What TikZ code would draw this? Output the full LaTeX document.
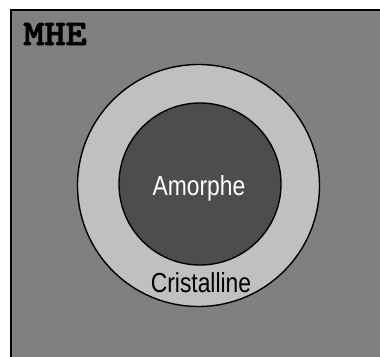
\documentclass[tikz,border=0pt]{standalone}
\usepackage{fontspec}
\setmainfont{Liberation Sans}
\newfontfamily\mhefont{lmmonolt10-bold.otf}[FakeBold=2]
\usepackage{tikz}
\usetikzlibrary{positioning}
\definecolor{mhegray}{RGB}{128, 128, 128}
\definecolor{cristalgray}{RGB}{192, 192, 192}
\definecolor{amorphgray}{RGB}{77, 77, 77}

\begin{document}
\begin{tikzpicture}[x=1pt, y=-1pt,
    framebox/.style={draw=black, line width=2.2pt, fill=mhegray},
    phasedisc/.style={circle, draw=black, line width=1.4pt, inner sep=0pt},
    phaselabel/.style={font=\fontsize{27.5}{30}\selectfont, inner sep=0pt,
        anchor=base, xscale=0.83},
    titlelabel/.style={font=\fontsize{36}{40}\selectfont\mhefont,
        inner sep=0pt, anchor=base west, xscale=1.12},
]

% ── PAGE ───────────────────────────────────────────────────────────────────
\useasboundingbox (0,0) rectangle (380,356);
\clip (0,0) rectangle (380,356);

% ── FRAME (runs off the right and bottom edges) ────────────────────────────
\draw[framebox] (11,10) rectangle (392,368);
\node[titlelabel] (mhe) at (23,45) {MHE};

% ── PHASES ─────────────────────────────────────────────────────────────────
\node[phasedisc, fill=cristalgray, minimum size=242pt] (cristal) at (198.5,185.5) {};
\node[phasedisc, fill=amorphgray,  minimum size=162pt] (amorph)  at (200,184)     {};

\node[phaselabel, text=white] (amorphlabel) at (199,195)   {Amorphe};
\node[phaselabel, text=black] (cristallabel) at (201,292)  {Cristalline};

\end{tikzpicture}
\end{document}
